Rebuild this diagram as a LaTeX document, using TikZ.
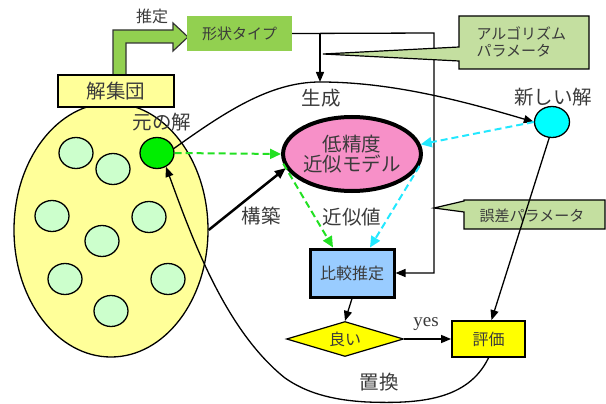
\documentclass[tikz,border=0pt]{standalone}
\usepackage{fontspec}
\setmainfont{Liberation Serif}
\newfontfamily\jp{Noto Sans CJK JP}
\usetikzlibrary{arrows.meta,shapes.geometric,calc}
\definecolor{txt}{HTML}{3A3A3A}
\definecolor{setfill}{HTML}{FFFF99}
\definecolor{memfill}{HTML}{CCFFCC}
\definecolor{oldfill}{HTML}{00EE00}
\definecolor{newfill}{HTML}{00FFFF}
\definecolor{shapefill}{HTML}{92D050}
\definecolor{callfill}{HTML}{C4DFA0}
\definecolor{pinkfill}{HTML}{F790C8}
\definecolor{cmpfill}{HTML}{99CCFF}
\definecolor{yel}{HTML}{FFFF00}
\definecolor{dgreen}{HTML}{22E022}
\definecolor{dcyan}{HTML}{22E8FF}
\begin{document}
\begin{tikzpicture}[x=1pt,y=-1pt,
  arr/.style={-{Triangle[length=10pt,width=8pt]}, line width=1.3pt},
  big/.style={font=\jp\fontsize{19.5}{23}\selectfont, text=txt},
  mid/.style={font=\jp\fontsize{16}{19}\selectfont, text=txt},
  sml/.style={font=\jp\fontsize{15}{18}\selectfont, text=txt},
  member/.style={ellipse, draw, line width=1.3pt, fill=memfill, minimum width=34pt, minimum height=31pt, inner sep=0pt},
  dashg/.style={draw=dgreen, line width=2pt, dash pattern=on 7pt off 4pt, -{Triangle[length=11pt,width=10pt]}},
  dashc/.style={draw=dcyan, line width=2pt, dash pattern=on 7pt off 4pt, -{Triangle[length=11pt,width=10pt]}},
]
\useasboundingbox (0,0) rectangle (606,404);

% solution set
\node[ellipse, draw, line width=1.3pt, fill=setfill, minimum width=194pt, minimum height=254pt, inner sep=0pt] (set) at (111,230) {};
\node[member] (m1) at (76,153) {};
\node[member] (m2) at (113,169) {};
\node[member] (m3) at (52,216) {};
\node[member] (m4) at (149,217) {};
\node[member] (m5) at (102,241) {};
\node[member] (m6) at (65,279) {};
\node[member] (m7) at (168,279) {};
\node[member] (m8) at (111,311) {};
\node[member, fill=oldfill] (old) at (157,153) {};

% bent block arrow
\draw[line width=1.2pt, draw=black!80, fill=shapefill]
  (113,76) -- (113,30) -- (173,30) -- (173,23) -- (188,37) -- (173,51) -- (173,43) -- (126,43) -- (126,76) -- cycle;
\node[big, draw, line width=1.5pt, fill=setfill, minimum width=116pt, minimum height=32pt, inner sep=0pt] (pop) at (116,91) {解集団};
\node[mid] (estlab) at (152,16) {推定};

\node[sml, fill=shapefill, minimum width=105pt, minimum height=35pt, inner sep=0pt] (shape) at (239.5,33.5) {形状タイプ};

% model
\node[big, ellipse, draw, line width=4pt, fill=pinkfill, minimum width=134pt, minimum height=74pt, inner sep=0pt, align=center] (model) at (352,154) {低精度\\[-3pt]近似モデル};

\node[mid, draw, line width=3pt, fill=cmpfill, minimum width=84pt, minimum height=48pt, inner sep=0pt] (cmp) at (352,273) {比較推定};
\node[mid, diamond, draw, line width=1.2pt, fill=yel, minimum width=117pt, minimum height=35pt, aspect=3.3, inner sep=0pt] (good) at (345,339) {良い};
\node[mid, draw, line width=1.8pt, fill=yel, minimum width=73pt, minimum height=36pt, inner sep=0pt] (eval) at (488.5,339) {評価};
\node[ellipse, draw, line width=1.3pt, fill=newfill, minimum width=35pt, minimum height=31pt, inner sep=0pt] (new) at (552,122) {};

% labels
\node[big] (genlab) at (321,98) {生成};
\node[big] (oldlab) at (162,122) {元の解};
\node[big] (newlab) at (553,97) {新しい解};
\node[big] (buildlab) at (261,216) {構築};
\node[big] (approxlab) at (352,217) {近似値};
\node[big] (replab) at (379,382) {置換};
\node[font=\fontsize{19}{22}\selectfont, text=txt] (yeslab) at (426,324) {yes};

% parameter lines
\coordinate (rt) at (434,33);
\coordinate (br) at (320,33);
\coordinate (gen) at (320,82);
\draw[arr] (shape.east) -- (rt) |- (cmp.east);
\draw[arr] (br) -- (gen);

% callouts
\draw[line width=1.2pt, fill=callfill]
  (459,16) -- (589,16) -- (589,69) -- (459,69) -- (459,61) -- (323,54) -- (459,47) -- cycle;
\node[sml, anchor=west, align=left] (algo) at (473,42) {アルゴリズム\\[-1pt]パラメータ};
\draw[line width=1.2pt, fill=callfill]
  (434,208) -- (464,201) -- (464,200) -- (605,200) -- (605,229) -- (464,229) -- (464,212) -- cycle;
\node[sml] (errlab) at (532,216) {誤差パラメータ};

% generation curve
\draw[arr] (old.15) .. controls (225,112) and (270,82) .. (gen) .. controls (390,82) and (460,100) .. (new.west);

% build arrow
\draw[-{Triangle[length=11pt,width=9pt]}, line width=2.5pt] (set.east) -- (model.192);

% dashed approximations
\draw[dashg] (old.east) -- (model.west);
\draw[dashc] (new.west) -- (model.8);
\draw[dashg] (model.188) -- ([xshift=-19pt]cmp.north);
\draw[dashc] (model.-10) -- ([xshift=18pt]cmp.north);

% flow
\draw[arr] (cmp.south) -- (good.north);
\draw[arr] (good.east) -- (eval.west);
\draw[arr] (new.260) -- ([xshift=3pt]eval.north);

% replacement curve
\draw[arr] (eval.south) .. controls (468,400) and (420,404) .. (367,402) .. controls (330,400) and (305,392) .. (285,378) .. controls (225,330) and (192,238) .. (old.-57);
\end{tikzpicture}
\end{document}
